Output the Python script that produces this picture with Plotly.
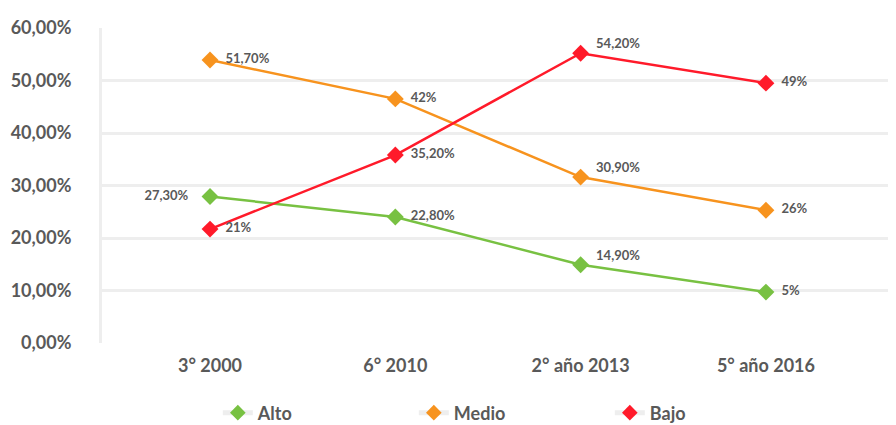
import plotly.graph_objects as go

# categories and values (plotted positions; labels as printed)
categorias = ["3° 2000", "6° 2010", "2° año 2013", "5° año 2016"]

alto = [27.9, 24.0, 14.9, 9.7]
medio = [53.9, 46.5, 31.6, 25.3]
bajo = [21.7, 35.8, 55.2, 49.5]

alto_txt = ["27,30%", "22,80%", "14,90%", "5%"]
medio_txt = ["51,70%", "42%", "30,90%", "26%"]
bajo_txt = ["21%", "35,20%", "54,20%", "49%"]

y_ticks = [0, 10, 20, 30, 40, 50, 60]

FONT = "Lato, 'Open Sans', sans-serif"
GRIS = "#595959"
REJILLA = "#eeeeee"

# label placement: l = left of marker, r = right, u = right and a little higher
series = [
    ("Alto", alto, alto_txt, "#78c142", ["l", "r", "u", "r"]),
    ("Medio", medio, medio_txt, "#f7931e", ["r", "r", "u", "r"]),
    ("Bajo", bajo, bajo_txt, "#ff1a2a", ["r", "r", "u", "r"]),
]


def etiqueta(t, p):
    if p == "l":
        return t + "    "
    if p == "u":
        return "  " + t + "<br> "
    return "  " + t


fig = go.Figure()
for nombre, vals, txt, color, pos in series:
    fig.add_trace(go.Scatter(
        x=categorias, y=vals, mode="lines+markers+text",
        name=nombre, showlegend=False,
        text=[etiqueta(t, p) for t, p in zip(txt, pos)],
        textposition=["middle left" if p == "l" else "middle right" for p in pos],
        textfont=dict(family=FONT, size=13, color=GRIS, weight="bold"),
        line=dict(color=color, width=2.5),
        marker=dict(symbol="diamond", size=13, color=color),
        cliponaxis=False,
    ))

# legend entries: grey line with coloured diamond, like the original
for nombre, vals, txt, color, pos in series:
    fig.add_trace(go.Scatter(
        x=[None], y=[None], mode="lines+markers", name=nombre,
        line=dict(color=REJILLA, width=4),
        marker=dict(symbol="diamond", size=13, color=color),
    ))

fig.update_layout(
    width=896, height=417,
    margin=dict(l=94, r=0, t=20, b=82, autoexpand=False),
    paper_bgcolor="white", plot_bgcolor="white",
    font=dict(family=FONT, color=GRIS),
    showlegend=True,
    legend=dict(
        orientation="h", x=0.511, xanchor="center", y=-0.222, yanchor="middle",
        font=dict(family=FONT, size=18, color=GRIS, weight="bold"),
        entrywidth=151, entrywidthmode="pixels",
        itemsizing="constant",
    ),
)
fig.update_xaxes(
    type="category", range=[-0.583, 3.745], automargin=False,
    showgrid=False, zeroline=False, showline=False,
    ticks="", tickfont=dict(family=FONT, size=18, color=GRIS, weight="bold"),
    ticklabelstandoff=10,
)
fig.update_yaxes(
    range=[0, 60], automargin=False,
    tickvals=y_ticks, ticktext=[f"{v:.2f}".replace(".", ",") + "%" for v in y_ticks],
    showgrid=True, gridcolor=REJILLA, gridwidth=3,
    zeroline=False, showline=True, linecolor=REJILLA, linewidth=3,
    ticks="", tickfont=dict(family=FONT, size=18, color=GRIS, weight="bold"),
    ticklabelstandoff=24,
)

fig.write_html("out.html")
